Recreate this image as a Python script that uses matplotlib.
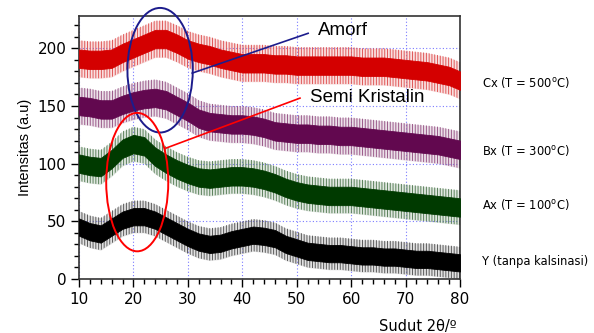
import matplotlib
matplotlib.use("Agg")
import matplotlib.pyplot as plt
from matplotlib.patches import Ellipse
from matplotlib.ticker import MultipleLocator
import numpy as np

# 2-theta positions (degrees) at which the traces were read
two_theta = [10, 12, 14, 16, 18, 20, 22, 24, 26, 28, 30, 32, 34, 36, 38, 40, 42, 44,
             46, 48, 50, 52, 54, 56, 58, 60, 62, 64, 66, 68, 70, 72, 74, 76, 78, 80]

# centre of each noisy trace (a.u.)
cx_500 = [191, 190, 190, 191, 196, 200, 204, 208, 208, 204, 199, 196, 194, 191, 189, 187, 187, 187,
          186, 186, 185, 185, 185, 185, 185, 185, 184, 184, 184, 183, 182, 181, 180, 178, 176, 172]
bx_300 = [150, 149, 147, 147, 151, 154, 156, 157, 155, 150, 145, 139, 136, 135, 134, 134, 133, 131,
          128, 127, 126, 126, 125, 125, 124, 124, 123, 122, 121, 120, 119, 118, 117, 116, 114, 112]
ax_100 = [100, 98, 97, 104, 113, 117, 115, 106, 100, 95, 91, 88, 87, 88, 89, 89, 88, 86,
          83, 79, 76, 74, 73, 72, 72, 72, 71, 70, 69, 68, 67, 66, 65, 64, 63, 62]
y_raw = [45, 41, 39, 45, 51, 54, 54, 51, 46, 41, 36, 32, 30, 31, 34, 36, 38, 37,
         35, 30, 27, 24, 23, 22, 22, 21, 20, 20, 19, 19, 18, 17, 17, 16, 15, 14]

# noise amplitude: (dense core half-width, spike half-width)
noise_core = [8, 8, 8, 7.5]
noise_spike = [16, 16, 15, 14]

series_labels = ["Cx (T = 500$^{\\rm o}$C)", "Bx (T = 300$^{\\rm o}$C)",
                 "Ax (T = 100$^{\\rm o}$C)", "Y (tanpa kalsinasi)"]

x_ticks = [10, 20, 30, 40, 50, 60, 70, 80]
y_ticks = [0, 50, 100, 150, 200]

series = [cx_500, bx_300, ax_100, y_raw]
colors = ["#d40000", "#62084f", "#003a00", "#000000"]
light = ["#e05858", "#9a5a8a", "#5a805a", "#5a5a5a"]

plt.rcParams["hatch.linewidth"] = 0.7

fig = plt.figure(figsize=(5.94, 3.33), dpi=100)
ax = fig.add_axes([79 / 594, 1 - 279 / 333, (460 - 79) / 594, (279 - 16) / 333])

x = np.array(two_theta, dtype=float)
for vals, c, lc, nc, ns in zip(series, colors, light, noise_core, noise_spike):
    v = np.array(vals, dtype=float)
    ax.fill_between(x, v - ns, v + ns, color=lc, alpha=0.18, lw=0, zorder=2)
    ax.fill_between(x, v - ns, v + ns, facecolor="none", edgecolor=lc, hatch="||||||", lw=0, zorder=2)
    ax.fill_between(x, v - nc, v + nc, color=c, lw=0.6, edgecolor=c, zorder=3)

ax.set_xlim(10, 80)
ax.set_ylim(0, 228)
ax.set_xticks(x_ticks)
ax.set_yticks(y_ticks)
ax.xaxis.set_minor_locator(MultipleLocator(2))
ax.yaxis.set_minor_locator(MultipleLocator(10))
ax.tick_params(which="major", length=6, width=1, direction="out", labelsize=11, pad=3)
ax.tick_params(which="minor", length=3.5, width=1, direction="out")
for lab in ax.get_xticklabels() + ax.get_yticklabels():
    lab.set_family("DejaVu Sans")
ax.grid(True, which="major", color="#7a7aff", linestyle=(0, (1, 2)), lw=0.8, zorder=1)
for s in ax.spines.values():
    s.set_color("#333333")
    s.set_linewidth(1.2)

ax.set_ylabel("Intensitas (a.u)", fontsize=10.5, family="Liberation Sans", labelpad=4)

# annotations
ax.add_patch(Ellipse((24.9, 181), 12.0, 108, fill=False, edgecolor="#1c1c8c", lw=1.4,
                     zorder=5, clip_on=False))
ax.add_patch(Ellipse((20.7, 84), 11.4, 120, fill=False, edgecolor="#ff0000", lw=1.4,
                     zorder=5, clip_on=False))
ax.plot([30.8, 52.1], [178.5, 213], color="#1c1c8c", lw=1.2, zorder=5)
ax.plot([26.0, 50.6], [113.5, 156.8], color="#ff0000", lw=1.2, zorder=5)
ax.text(53.9, 215.5, "Amorf", fontsize=13.5, family="Liberation Sans", va="center", ha="left", zorder=6)
ax.text(52.5, 157.5, "Semi Kristalin", fontsize=13.5, family="Liberation Sans", va="center", ha="left", zorder=6)

label_y = [82, 150, 205, 262]
for lab, yy in zip(series_labels, label_y):
    fig.text(482 / 594, 1 - yy / 333, lab, fontsize=8.3, family="DejaVu Sans", va="center", ha="left")

fig.text(457 / 594, 1 - 326 / 333, "Sudut 2\u03b8/\u00ba", fontsize=10.5, family="DejaVu Sans",
         va="center", ha="right")

fig.savefig("out.png", dpi=100)
